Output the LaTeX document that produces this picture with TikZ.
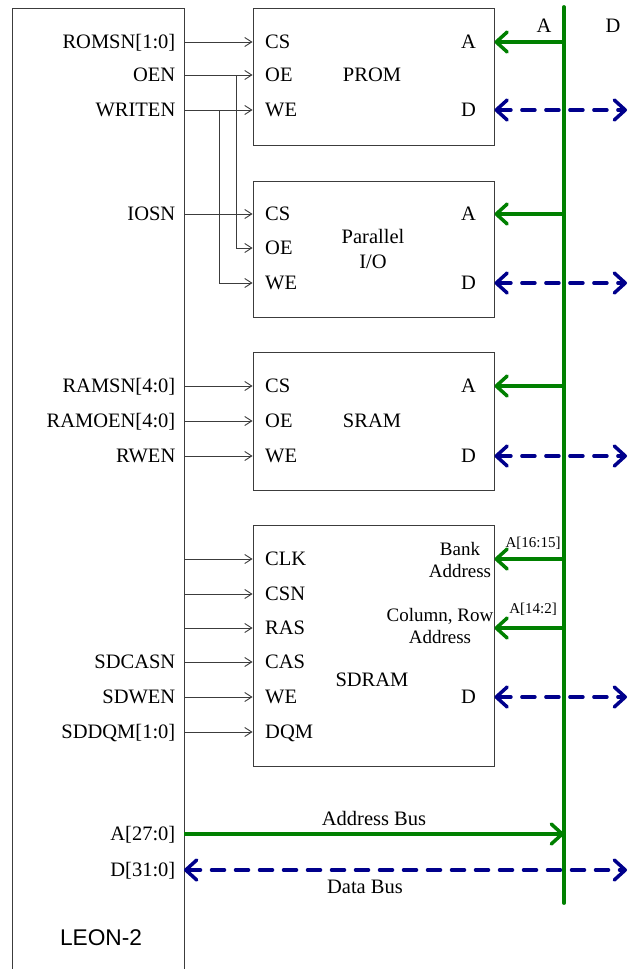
\documentclass[tikz,border=0pt]{standalone}
\usepackage{fontspec}
\setmainfont{Liberation Serif}
\newfontfamily\arialf{Liberation Sans}
\usetikzlibrary{arrows.meta}
\definecolor{busgreen}{RGB}{0,128,0}
\definecolor{busblue}{RGB}{0,0,140}
\definecolor{wire}{RGB}{60,60,60}
\begin{document}
\begin{tikzpicture}[x=1pt,y=-1pt,
  lbl/.style={inner sep=0pt, font=\fontsize{20.5}{25}\selectfont, text height=13.6pt, text depth=0pt},
  txt/.style={inner sep=0pt, font=\fontsize{20.5}{25}\selectfont, align=center},
  small/.style={inner sep=0pt, font=\fontsize{15}{18}\selectfont},
  mid/.style={inner sep=0pt, font=\fontsize{19}{22.5}\selectfont, align=center},
  blk/.style={draw=wire, line width=0.9pt, inner sep=0pt, minimum width=241pt},
  sig/.style={draw=wire, line width=0.9pt, -{Straight Barb[length=7pt,width=9pt]}},
  sigline/.style={draw=wire, line width=0.9pt},
  garrow/.style={draw=busgreen, line width=3.5pt, -{Straight Barb[round,length=11pt,width=20pt]}},
  gline/.style={draw=busgreen, line width=3.8pt, line cap=round},
  barrow/.style={draw=busblue, line width=3.5pt, line cap=round, dash pattern=on 13pt off 11pt,
    {Straight Barb[round,length=11pt,width=20pt]}-{Straight Barb[round,length=11pt,width=20pt]}},
]
\useasboundingbox (0,0) rectangle (627,969);
\fill[white] (0,0) rectangle (627,969);

% LEON-2 block (open at the bottom)
\draw[sigline] (12,969) -- (12,8) -- (184,8) -- (184,969);
\node[inner sep=0pt, font=\arialf\fontsize{22.7}{26}\selectfont] (leon) at (101,937.5) {LEON-2};
\coordinate (lr) at (184,0);
\coordinate (bustop) at (564,7);
\coordinate (busbot) at (564,903);
\coordinate (rend) at (627,0);
\coordinate (oebr) at (236,0);
\coordinate (webr) at (219,0);

% blocks
\node[blk, minimum height=137pt] (prom) at (373.5,76.5) {};
\node[blk, minimum height=136pt] (pio) at (373.5,249) {};
\node[blk, minimum height=138pt] (sram) at (373.5,421) {};
\node[blk, minimum height=241pt] (sdram) at (373.5,645.5) {};

\node[lbl] (promt) at (372,75) {PROM};
\node[txt] (piot) at (373,249) {Parallel\\I/O};
\node[lbl] (sramt) at (372,421) {SRAM};
\node[lbl] (sdramt) at (372,680) {SDRAM};

% ports
\node[lbl, anchor=west] (promCS) at (265,42) {CS};
\node[lbl, anchor=west] (promOE) at (265,75) {OE};
\node[lbl, anchor=west] (promWE) at (265,110) {WE};
\node[lbl, anchor=east] (promA) at (476,42) {A};
\node[lbl, anchor=east] (promD) at (476,110) {D};

\node[lbl, anchor=west] (pioCS) at (265,214) {CS};
\node[lbl, anchor=west] (pioOE) at (265,248) {OE};
\node[lbl, anchor=west] (pioWE) at (265,283) {WE};
\node[lbl, anchor=east] (pioA) at (476,214) {A};
\node[lbl, anchor=east] (pioD) at (476,283) {D};

\node[lbl, anchor=west] (sramCS) at (265,386) {CS};
\node[lbl, anchor=west] (sramOE) at (265,421) {OE};
\node[lbl, anchor=west] (sramWE) at (265,456) {WE};
\node[lbl, anchor=east] (sramA) at (476,386) {A};
\node[lbl, anchor=east] (sramD) at (476,456) {D};

\node[lbl, anchor=west] (clk) at (265,559) {CLK};
\node[lbl, anchor=west] (csn) at (265,594) {CSN};
\node[lbl, anchor=west] (ras) at (265,628) {RAS};
\node[lbl, anchor=west] (cas) at (265,662) {CAS};
\node[lbl, anchor=west] (sdwe) at (265,697) {WE};
\node[lbl, anchor=west] (dqm) at (265,732) {DQM};
\node[lbl, anchor=east] (sdD) at (476,697) {D};
\node[mid] (bank) at (460,560) {Bank\\Address};
\node[mid] (colrow) at (440,626) {Column, Row\\Address};
\node[small] (a1615) at (533,543) {A[16:15]};
\node[small] (a142) at (533,609) {A[14:2]};

% LEON signals
\node[lbl, anchor=east] (romsn) at (175.5,42) {ROMSN[1:0]};
\node[lbl, anchor=east] (oen) at (175.5,75) {OEN};
\node[lbl, anchor=east] (writen) at (175.5,110) {WRITEN};
\node[lbl, anchor=east] (iosn) at (175.5,214) {IOSN};
\node[lbl, anchor=east] (ramsn) at (175.5,386) {RAMSN[4:0]};
\node[lbl, anchor=east] (ramoen) at (175.5,421) {RAMOEN[4:0]};
\node[lbl, anchor=east] (rwen) at (175.5,456) {RWEN};
\node[lbl, anchor=east] (sdcasn) at (175.5,662) {SDCASN};
\node[lbl, anchor=east] (sdwen) at (175.5,697) {SDWEN};
\node[lbl, anchor=east] (sddqm) at (175.5,732) {SDDQM[1:0]};
\node[lbl, anchor=east] (addr) at (175.5,834) {A[27:0]};
\node[lbl, anchor=east] (data) at (175.5,870) {D[31:0]};

% bus headers
\node[lbl] (hA) at (544,26) {A};
\node[lbl] (hD) at (613,26) {D};
\node[txt] (abus) at (374,818) {Address Bus};
\node[txt] (dbus) at (365,887) {Data Bus};

% control wires
\draw[sig] (lr |- romsn.east) -- (prom.west |- promCS.west);
\draw[sig] (lr |- oen.east) -- (prom.west |- promOE.west);
\draw[sig] (lr |- writen.east) -- (prom.west |- promWE.west);
\draw[sig] (lr |- iosn.east) -- (pio.west |- pioCS.west);
\draw[sig] (oebr |- oen.east) -- (oebr |- pioOE.west) -- (pio.west |- pioOE.west);
\draw[sig] (webr |- writen.east) -- (webr |- pioWE.west) -- (pio.west |- pioWE.west);
\draw[sig] (lr |- ramsn.east) -- (sram.west |- sramCS.west);
\draw[sig] (lr |- ramoen.east) -- (sram.west |- sramOE.west);
\draw[sig] (lr |- rwen.east) -- (sram.west |- sramWE.west);
\draw[sig] (lr |- clk.west) -- (sdram.west |- clk.west);
\draw[sig] (lr |- csn.west) -- (sdram.west |- csn.west);
\draw[sig] (lr |- ras.west) -- (sdram.west |- ras.west);
\draw[sig] (lr |- sdcasn.east) -- (sdram.west |- cas.west);
\draw[sig] (lr |- sdwen.east) -- (sdram.west |- sdwe.west);
\draw[sig] (lr |- sddqm.east) -- (sdram.west |- dqm.west);

% data bus (dashed blue)
\draw[barrow] (prom.east |- promD.east) -- (rend |- promD.east);
\draw[barrow] (pio.east |- pioD.east) -- (rend |- pioD.east);
\draw[barrow] (sram.east |- sramD.east) -- (rend |- sramD.east);
\draw[barrow] (sdram.east |- sdD.east) -- (rend |- sdD.east);
\draw[barrow] (lr |- data.east) -- (rend |- data.east);

% address bus (green)
\draw[garrow] (bustop |- promA.east) -- (prom.east |- promA.east);
\draw[garrow] (bustop |- pioA.east) -- (pio.east |- pioA.east);
\draw[garrow] (bustop |- sramA.east) -- (sram.east |- sramA.east);
\draw[garrow] (bustop |- clk.west) -- (sdram.east |- clk.west);
\draw[garrow] (bustop |- ras.west) -- (sdram.east |- ras.west);
\draw[garrow] (lr |- addr.east) -- (bustop |- addr.east);
\draw[gline] (bustop) -- (busbot);
\end{tikzpicture}
\end{document}
